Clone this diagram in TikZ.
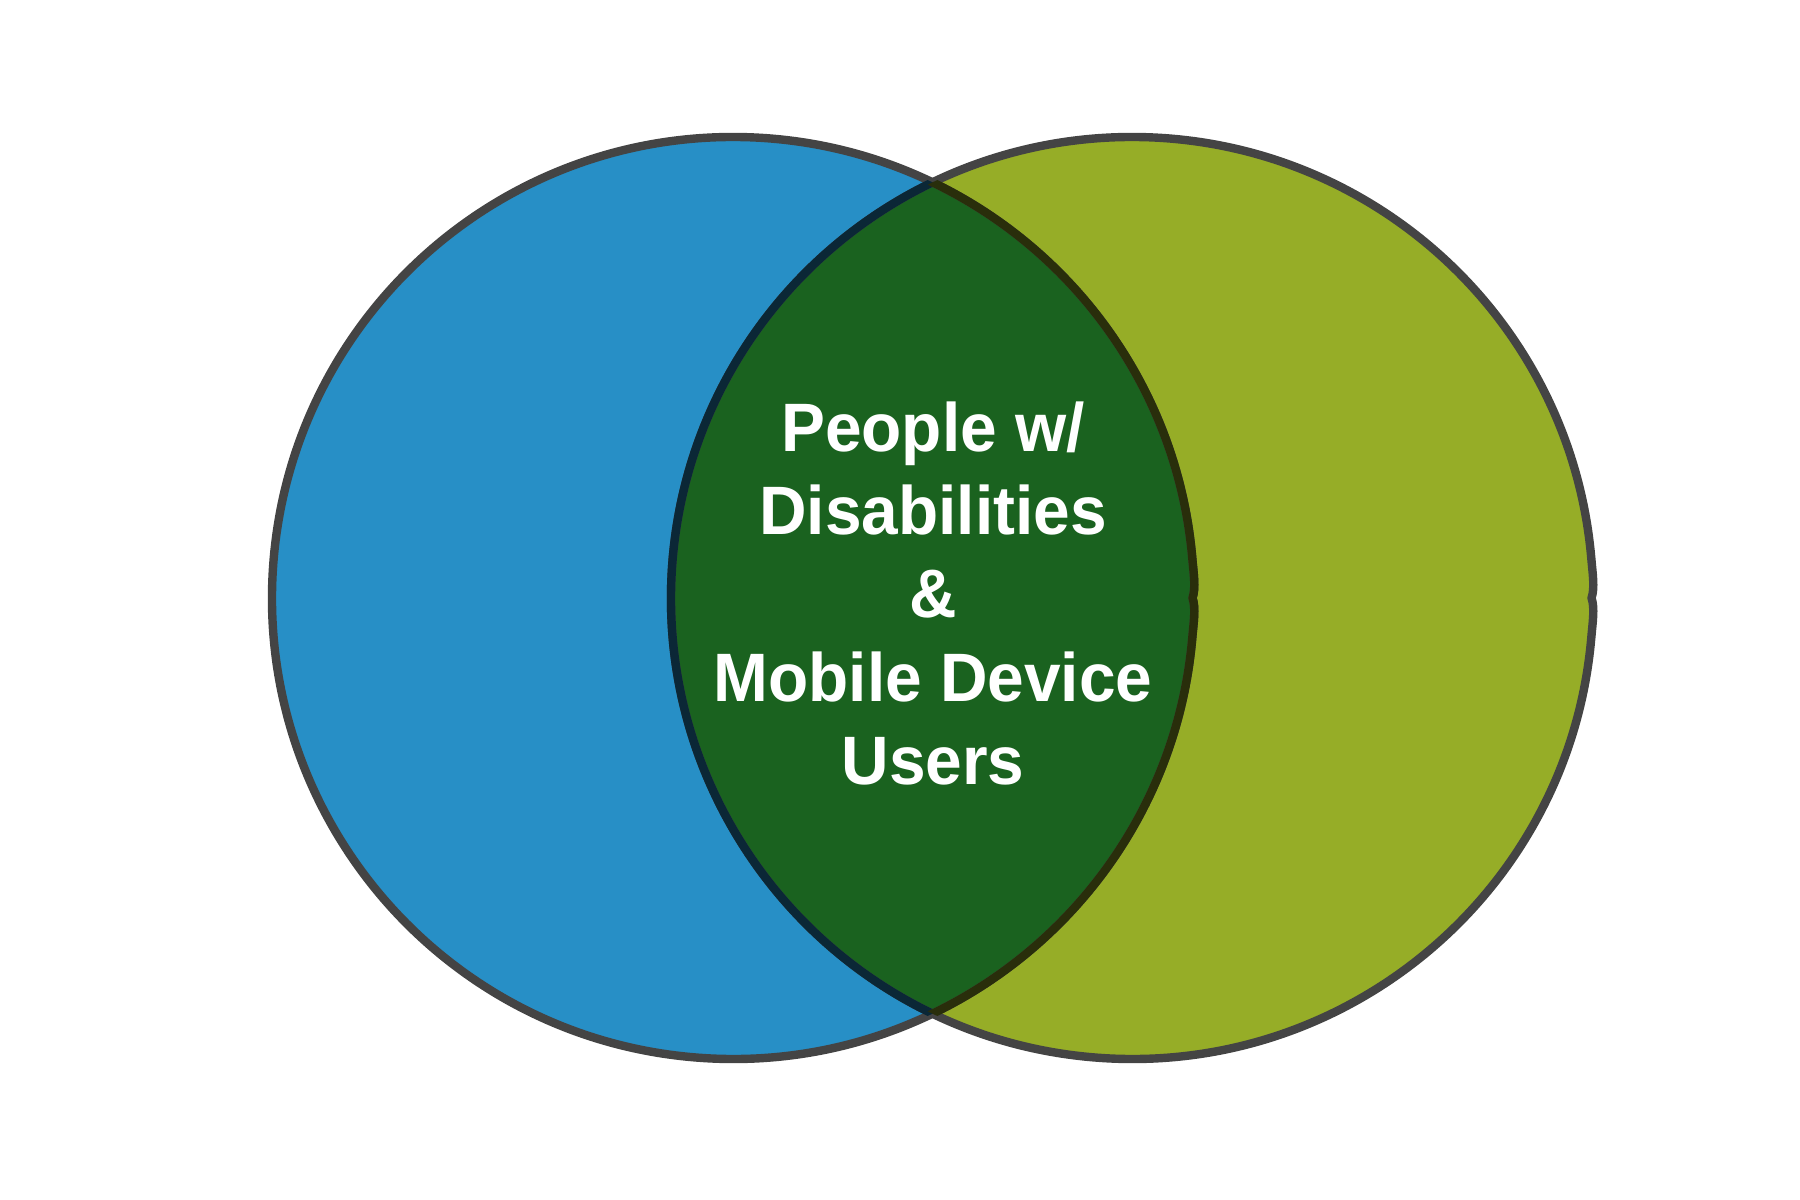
\documentclass[tikz,border=0pt]{standalone}
\usepackage{fontspec}
\newfontfamily\vennfont{Liberation Sans}[FakeStretch=0.96]
\usepackage{tikz}

\definecolor{setblue}{HTML}{278FC6}
\definecolor{setolive}{HTML}{96AD27}
\definecolor{setboth}{HTML}{1A621F}
\definecolor{ringgray}{HTML}{444444}
\definecolor{ringnavy}{HTML}{0B2736}
\definecolor{ringdark}{HTML}{292E0B}

% outline of one set, centred on the origin
\def\ringpath{(0,461) arc[start angle=90, end angle=5, radius=461]
  .. controls (460.5,25) and (463,10) .. (459.5,0)
  .. controls (463,-10) and (460.5,-25) .. (-5:461)
  arc[start angle=-5, end angle=-270, radius=461] -- cycle}

\tikzset{
  ring/.style={draw=ringgray, line width=0.84mm, line join=round},
  lbl/.style={text=white, inner sep=0pt, anchor=base,
              font=\vennfont\bfseries\fontsize{19.5}{23.6}\selectfont}
}

\begin{document}
\begin{tikzpicture}[x=0.1mm, y=0.1mm]
\useasboundingbox (0,0) rectangle (1800,1200);
\coordinate (lc) at (733,602);
\coordinate (rc) at (1132,602);

\fill[setblue, shift={(lc)}] \ringpath;
\fill[setolive, shift={(rc)}] \ringpath;
\begin{scope}
  \clip[shift={(lc)}] \ringpath;
  \fill[setboth, shift={(rc)}] \ringpath;
\end{scope}

% outlines, darker where they cross the other set
\draw[ring, shift={(lc)}] \ringpath;
\draw[ring, shift={(rc)}] \ringpath;
\begin{scope}
  \clip[shift={(lc)}] \ringpath;
  \draw[ring, draw=ringnavy, shift={(rc)}] \ringpath;
\end{scope}
\begin{scope}
  \clip[shift={(rc)}] \ringpath;
  \draw[ring, draw=ringdark, shift={(lc)}] \ringpath;
\end{scope}

\foreach \txt [count=\i] in {People w/, Disabilities, \&, Mobile Device, Users}
  \node[lbl] (line\i) at (933, 832-83.3*\i) {\txt};
\end{tikzpicture}
\end{document}
